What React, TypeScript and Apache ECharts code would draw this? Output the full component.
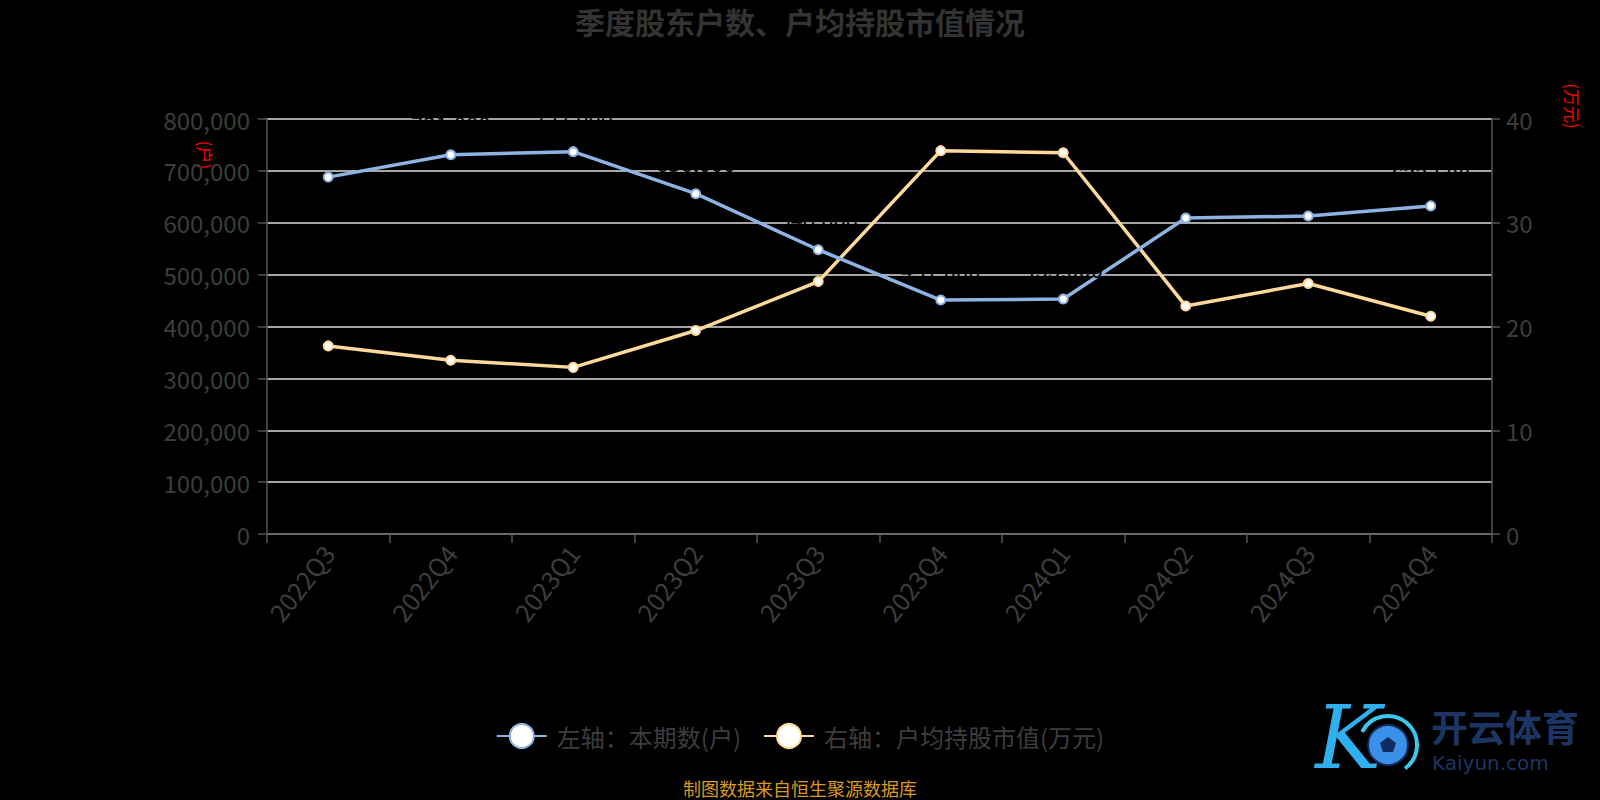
import React, { useEffect, useRef } from "react";
import * as echarts from "echarts";

const categories = ["2022Q3", "2022Q4", "2023Q1", "2023Q2", "2023Q3", "2023Q4", "2024Q1", "2024Q2", "2024Q3", "2024Q4"];
const holderCount = [688000, 731000, 737000, 656000, 548000, 451000, 453000, 609000, 613000, 632500];
const avgHoldingValue = [18.13, 16.75, 16.06, 19.61, 24.33, 36.95, 36.75, 21.97, 24.14, 20.99];
const seriesNames = ["左轴：本期数(户)", "右轴：户均持股市值(万元)"];
const titleText = "季度股东户数、户均持股市值情况";
const sourceText = "制图数据来自恒生聚源数据库";
const leftAxisName = "(户)";
const rightAxisName = "(万元)";

const FONT = "'Noto Sans CJK SC', 'Noto Sans', sans-serif";
const AXIS_TEXT = "#3d3d3d";
const BLUE = "#8db3e2";
const ORANGE = "#ffd99b";

const fmt = (v: number) => Math.round(v).toString().replace(/\B(?=(\d{3})+(?!\d))/g, ",");

export default function App() {
  const ref = useRef<HTMLDivElement>(null);
  useEffect(() => {
    if (!ref.current) return;
    const chart = echarts.init(ref.current, null, { renderer: "svg" });
    const option: any = {
      animation: false,
      backgroundColor: "#000",
      textStyle: { fontFamily: FONT },
      title: {
        text: titleText,
        left: "center",
        top: 1,
        textStyle: { color: "#333", fontSize: 30, fontWeight: "bold", fontFamily: FONT },
      },
      legend: {
        data: seriesNames,
        left: "center",
        top: 718,
        itemWidth: 50,
        itemHeight: 30,
        itemGap: 22,
        textStyle: { color: AXIS_TEXT, fontSize: 24, fontFamily: FONT, padding: [0, 0, 0, 5] },
      },
      grid: { left: 267, right: 108, top: 119, bottom: 266, containLabel: false },
      xAxis: {
        type: "category",
        data: categories,
        boundaryGap: true,
        axisLine: { show: true, lineStyle: { color: "#555", width: 1.5 } },
        axisTick: { show: true, length: 9, lineStyle: { color: "#555", width: 1.5 } },
        axisLabel: { rotate: 52, fontSize: 25, color: AXIS_TEXT, margin: 14, fontFamily: FONT },
        splitLine: { show: false },
      },
      yAxis: [
        {
          type: "value",
          min: 0,
          max: 800000,
          interval: 100000,
          position: "left",
          axisLine: { show: true, lineStyle: { color: "#555", width: 1.5 } },
          axisTick: { show: true, length: 9, lineStyle: { color: "#555", width: 1.5 } },
          axisLabel: { fontSize: 24, color: AXIS_TEXT, margin: 17, formatter: (v: number) => fmt(v), fontFamily: FONT },
          splitLine: { show: true, lineStyle: { color: "#dcdcdc", width: 1.5 } },
        },
        {
          type: "value",
          min: 0,
          max: 40,
          interval: 10,
          position: "right",
          axisLine: { show: true, lineStyle: { color: "#555", width: 1.5 } },
          axisTick: { show: true, length: 8, lineStyle: { color: "#555", width: 1.5 } },
          axisLabel: { fontSize: 24, color: AXIS_TEXT, margin: 14, fontFamily: FONT },
          splitLine: { show: false },
        },
      ],
      series: [
        {
          name: seriesNames[0],
          type: "line",
          yAxisIndex: 0,
          data: holderCount,
          symbol: "emptyCircle",
          symbolSize: 9,
          itemStyle: { color: BLUE, borderWidth: 2 },
          lineStyle: { color: BLUE, width: 3.5 },
          label: {
            show: true,
            position: "top",
            distance: 15,
            color: "#000",
            fontSize: 22,
            fontFamily: FONT,
            formatter: (p: any) => fmt(p.value),
          },
          z: 3,
        },
        {
          name: seriesNames[1],
          type: "line",
          yAxisIndex: 1,
          data: avgHoldingValue,
          symbol: "emptyCircle",
          symbolSize: 9,
          itemStyle: { color: ORANGE, borderWidth: 2 },
          lineStyle: { color: ORANGE, width: 3.5 },
          label: { show: false },
          z: 2,
        },
      ],
      graphic: [
        {
          type: "text",
          x: 205,
          y: 155,
          rotation: -Math.PI / 2,
          style: { text: leftAxisName, fill: "#ff0000", fontSize: 17, fontFamily: FONT, align: "center", verticalAlign: "middle" },
        },
        {
          type: "text",
          x: 1572,
          y: 106,
          rotation: -Math.PI / 2,
          style: { text: rightAxisName, fill: "#ff0000", fontSize: 17, fontFamily: FONT, align: "center", verticalAlign: "middle" },
        },
        {
          type: "text",
          x: 800,
          y: 788,
          style: { text: sourceText, fill: "#d99a1e", fontSize: 18, fontFamily: FONT, align: "center", verticalAlign: "middle" },
        },
        {
          type: "group",
          children: [
            {
              type: "arc",
              shape: { cx: 1388, cy: 745, r: 29, startAngle: -Math.PI * 0.85, endAngle: Math.PI * 0.3 },
              style: { stroke: "#3cc6ef", lineWidth: 4, fill: "none" },
            },
            {
              type: "text",
              x: 1348,
              y: 737,
              style: {
                text: "K",
                fontSize: 88,
                fontStyle: "italic",
                fontFamily: "'DejaVu Serif', serif",
                align: "center",
                verticalAlign: "middle",
                fill: "#2fb0ee",
              },
            },
            {
              type: "circle",
              shape: { cx: 1388, cy: 745, r: 20 },
              style: { fill: "#3a8fe6", stroke: "#0f2a5c", lineWidth: 2 },
            },
            {
              type: "polygon",
              shape: { points: [[1388, 737], [1396, 743], [1393, 752], [1383, 752], [1380, 743]] },
              style: { fill: "#0f2a5c" },
            },
            {
              type: "text",
              x: 1431,
              y: 726,
              style: { text: "开云体育", fill: "#1d3563", fontSize: 37, fontWeight: "bold", fontFamily: FONT, align: "left", verticalAlign: "middle" },
            },
            {
              type: "text",
              x: 1432,
              y: 763,
              style: { text: "Kaiyun.com", fill: "#1d3563", fontSize: 20, fontFamily: "'DejaVu Sans', sans-serif", align: "left", verticalAlign: "middle" },
            },
          ],
        },
      ],
    };
    chart.setOption(option);
    return () => chart.dispose();
  }, []);
  return <div ref={ref} style={{ position: "fixed", left: 0, top: 0, width: 1600, height: 800, background: "#000" }} />;
}
